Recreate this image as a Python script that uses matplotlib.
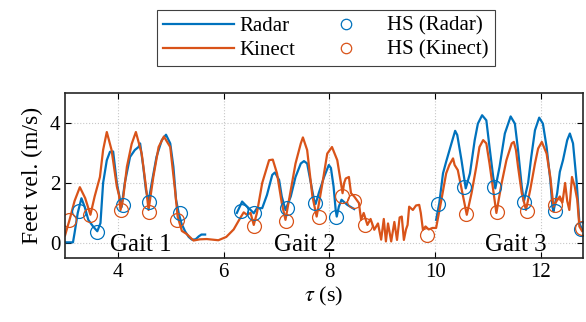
import numpy as np
import matplotlib
matplotlib.use('Agg')
import matplotlib.pyplot as plt

plt.rcParams['font.family'] = ['Liberation Serif', 'DejaVu Serif']
plt.rcParams['mathtext.fontset'] = 'stix'

# radar feet velocity (NaN = no detection)
radar_t = [3.00, 3.15, 3.18, 3.24, 3.31, 3.37, 3.44, 3.53, 3.61, 3.67, 3.72, 3.79, 3.85, 3.91,
           3.98, 4.04, 4.07, 4.13, 4.23, 4.32, 4.39, 4.42, 4.48, 4.53, 4.58, 4.64, 4.73, 4.83,
           4.91, 4.99, 5.05, 5.10, 5.15, 5.20, 5.27, 5.34, 5.40, 5.47, 5.53, 5.58, 5.65, 5.70,
           6.25, 6.35, 6.41, 6.51, 6.57, 6.63, 6.73, 6.82, 6.92, 6.97, 7.05, 7.10, 7.17, 7.27,
           7.36, 7.46, 7.52, 7.58, 7.65, 7.71, 7.74, 7.80, 7.90, 7.99, 8.03, 8.08, 8.12, 8.14,
           8.18, 8.23, 8.34, 8.47, 8.50,
           10.02, 10.08, 10.15, 10.21, 10.31, 10.38, 10.42, 10.50, 10.58, 10.66, 10.75, 10.81,
           10.89, 10.97, 11.03, 11.10, 11.14, 11.22, 11.32, 11.43, 11.51, 11.57, 11.64, 11.68,
           11.76, 11.82, 11.89, 11.97, 12.04, 12.11, 12.18, 12.22, 12.24, 12.31, 12.36, 12.42,
           12.50, 12.55, 12.61, 12.68, 12.73, 12.78]
radar_v = [0.02, 0.02, 0.33, 1.00, 1.49, 1.21, 0.77, 0.55, 0.39, 0.66, 2.00, 2.76, 3.04, 3.05,
           2.00, 1.44, 1.20, 2.00, 2.87, 3.10, 3.20, 3.32, 2.54, 1.77, 1.38, 2.00, 2.87, 3.43,
           3.61, 3.32, 2.54, 1.44, 1.00, 0.66, 0.39, 0.20, 0.11, 0.12, 0.22, 0.28, 0.28, np.nan,
           1.00, 1.38, 1.27, 1.10, 0.99, 1.16, 1.16, 1.60, 2.27, 2.35, 2.10, 1.55, 1.10, 1.55,
           2.20, 2.65, 2.73, 2.65, 2.00, 1.44, 1.30, 1.66, 2.20, 2.60, 2.50, 1.88, 1.10, 0.88,
           1.21, 1.44, 1.27, 1.13, np.nan,
           0.77, 1.33, 2.32, 2.71, 3.32, 3.74, 3.60, 2.76, 1.82, 2.32, 3.43, 3.98,
           4.26, 4.09, 3.20, 2.20, 1.82, 2.54, 3.65, 4.22, 3.98, 3.10, 1.88, 1.38,
           2.00, 2.87, 3.76, 4.18, 3.98, 3.20, 2.10, 1.21, 1.05, 1.66, 2.37, 2.76,
           3.43, 3.65, 3.32, 2.00, 0.66, 0.45]

# kinect feet velocity
kinect_t = [3.00, 3.09, 3.18, 3.28, 3.38, 3.48, 3.56, 3.66, 3.72, 3.79, 3.88, 3.98, 4.02, 4.05,
            4.10, 4.17, 4.26, 4.34, 4.45, 4.53, 4.58, 4.67, 4.77, 4.87, 4.99, 5.08, 5.13, 5.21,
            5.30, 5.43, 5.55, 5.68, 5.90, 6.05, 6.19, 6.32, 6.38, 6.44, 6.51, 6.57, 6.63, 6.73,
            6.86, 6.93, 7.01, 7.10, 7.17, 7.27, 7.36, 7.46, 7.50, 7.58, 7.68, 7.76, 7.87, 7.96,
            8.05, 8.15, 8.25, 8.28, 8.31, 8.37, 8.41, 8.47, 8.56, 8.60, 8.65, 8.72, 8.78, 8.85,
            8.92, 8.98, 9.03, 9.07, 9.11, 9.17, 9.23, 9.28, 9.33, 9.37, 9.41, 9.45, 9.48, 9.51,
            9.58, 9.64, 9.70, 9.73, 9.77, 9.82, 9.88, 9.95, 10.02, 10.12, 10.21, 10.27, 10.34,
            10.37, 10.43, 10.53, 10.60, 10.69, 10.78, 10.84, 10.91, 10.97, 11.03, 11.10, 11.16,
            11.26, 11.35, 11.41, 11.45, 11.49, 11.53, 11.57, 11.64, 11.72, 11.80, 11.89, 11.95,
            12.02, 12.11, 12.18, 12.24, 12.30, 12.36, 12.41, 12.46, 12.50, 12.54, 12.59, 12.64,
            12.69, 12.73, 12.78]
kinect_v = [0.25, 0.80, 1.40, 1.86, 1.50, 0.94, 1.55, 2.20, 3.10, 3.70, 3.10, 1.88, 1.60, 1.10,
            1.50, 2.54, 3.30, 3.70, 2.98, 1.88, 1.10, 2.20, 3.20, 3.55, 3.20, 1.77, 0.88, 0.40,
            0.30, 0.08, 0.12, 0.13, 0.09, 0.20, 0.45, 0.85, 1.02, 0.94, 1.00, 0.60, 1.00, 2.00,
            2.76, 2.78, 2.32, 1.33, 0.77, 1.77, 2.65, 3.32, 3.52, 3.10, 1.55, 0.88, 2.00, 2.98,
            3.20, 2.76, 1.66, 2.00, 2.15, 2.20, 1.66, 1.55, 1.33, 0.77, 1.00, 0.60, 0.80, 0.44,
            0.65, 0.11, 0.80, 0.05, 0.65, 0.05, 0.70, 0.10, 0.85, 0.88, 0.10, 0.45, 0.60, 1.21,
            1.10, 1.25, 1.27, 1.00, 0.44, 0.55, 0.45, 0.50, 0.50, 1.44, 2.32, 2.60, 2.82,
            2.60, 2.43, 1.55, 0.94, 1.66, 2.54, 3.20, 3.43, 3.32, 2.65, 1.77, 1.00,
            2.00, 2.76, 3.10, 3.32, 3.37, 3.10, 2.54, 1.66, 1.10, 1.77, 2.65, 3.15,
            3.37, 2.98, 2.20, 1.21, 1.40, 1.55, 1.35, 2.00, 1.40, 1.10, 2.20, 1.90,
            1.44, 0.55, 0.40]

# heel strikes
hs_radar_t = [3.26, 3.60, 4.09, 4.58, 5.18, 6.32, 6.57, 7.20, 7.72, 8.13,
              10.06, 10.55, 11.12, 11.69, 12.27, 12.77]
hs_radar_v = [1.05, 0.36, 1.27, 1.38, 1.00, 1.07, 1.01, 1.16, 1.33, 0.88,
              1.30, 1.88, 1.88, 1.35, 1.07, 0.46]
hs_kinect_t = [3.07, 3.48, 4.05, 4.59, 5.11, 6.57, 7.18, 7.80, 8.24, 8.47, 8.67,
               9.85, 10.59, 11.18, 11.74, 12.27, 12.78]
hs_kinect_v = [0.77, 0.92, 1.10, 1.02, 0.75, 0.57, 0.74, 0.88, 1.55, 1.40, 0.61,
               0.25, 0.96, 1.03, 1.05, 1.27, 0.50]

gait_labels = ['Gait 1', 'Gait 2', 'Gait 3']
gait_x = [4.44, 7.53, 11.53]

blue = '#0072BD'
orange = '#D95319'

fig = plt.figure(figsize=(5.86, 3.22), dpi=100)
ax = fig.add_axes([0.111, 0.199, 0.884, 0.512])

ax.plot(radar_t, radar_v, color=blue, lw=1.6, label='Radar')
ax.plot(kinect_t, kinect_v, color=orange, lw=1.6, label='Kinect')
ax.plot(hs_radar_t, hs_radar_v, 'o', mfc='none', mec=blue, ms=10, mew=0.9, label='HS (Radar)')
ax.plot(hs_kinect_t, hs_kinect_v, 'o', mfc='none', mec=orange, ms=10, mew=0.9, label='HS (Kinect)')

for lab, gx in zip(gait_labels, gait_x):
    ax.text(gx, -0.27, lab, ha='center', va='baseline', fontsize=18)

ax.set_xlim(3, 12.8)
ax.set_ylim(-0.5, 5)
ax.set_xticks([4, 6, 8, 10, 12])
ax.set_yticks([0, 2, 4])
ax.tick_params(direction='in', top=True, right=True, labelsize=15, length=4, width=0.8)
ax.grid(True, linestyle=':', color='#c8c8c8', linewidth=0.8)
for sp in ax.spines.values():
    sp.set_linewidth(1.2)
    sp.set_color('#262626')

ax.set_xlabel(r'$\tau$ (s)', fontsize=16, labelpad=2)
ax.set_ylabel('Feet vel. (m/s)', fontsize=17, labelpad=5)

leg = fig.legend(loc='upper center', bbox_to_anchor=(0.556, 0.969), ncol=2, fontsize=15,
                 frameon=True, fancybox=False, edgecolor='#404040', framealpha=1,
                 handlelength=3.4, handletextpad=0.3, columnspacing=0.7, labelspacing=0.22,
                 borderpad=0.3, borderaxespad=0, markerscale=0.75)
leg.get_frame().set_linewidth(0.8)

fig.savefig('out.png', dpi=100)
